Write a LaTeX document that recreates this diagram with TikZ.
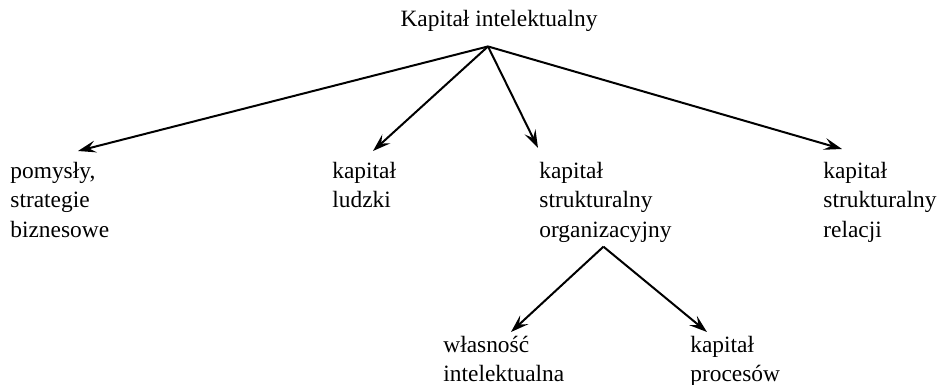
\documentclass[tikz,border=0pt]{standalone}
\usepackage{fontspec}
\setmainfont{Liberation Serif}
\usetikzlibrary{arrows.meta,positioning}
\tikzset{
  lbl/.style={align=left,inner sep=0pt,anchor=north west,
              font=\rmfamily\fontsize{11.7}{14.65}\selectfont},
  arr/.style={-{Stealth[length=9pt,width=6pt,inset=3.5pt]},line width=1pt},
}
\begin{document}
\begin{tikzpicture}[x=0.5pt,y=-0.5pt]
    \useasboundingbox (0,0) rectangle (939,385);
    \node[lbl,anchor=base] (ki) at (499,27) {Kapitał intelektualny};
    \node[lbl] (pom) at (10,162) {pomysły,\\strategie\\biznesowe};
    \node[lbl] (ludz) at (332,162) {kapitał\\ludzki};
    \node[lbl] (org) at (539,162) {kapitał\\strukturalny\\organizacyjny};
    \node[lbl] (rel) at (823,162) {kapitał\\strukturalny\\relacji};
    \node[lbl] (wl) at (443,336) {własność\\intelektualna};
    \node[lbl] (proc) at (690,336) {kapitał\\procesów};
    % punkty rozgalezienia
    \coordinate (top) at ([xshift=-5.5pt,yshift=-7pt]ki.south);
    \coordinate (mid) at ([xshift=-1pt,yshift=-2pt]org.south);
    \draw[arr] (top)--([xshift=34pt,yshift=5.5pt]pom.north west);
    \draw[arr] (top)--([xshift=20.5pt,yshift=5.5pt]ludz.north west);
    \draw[arr] (top)--([xshift=-0.5pt,yshift=7pt]org.north west);
    \draw[arr] (top)--([xshift=9.5pt,yshift=6.5pt]rel.north west);
    \draw[arr] (mid)--([xshift=34pt,yshift=2pt]wl.north west);
    \draw[arr] (mid)--([xshift=8.5pt,yshift=2pt]proc.north west);
  \end{tikzpicture}
\end{document}
